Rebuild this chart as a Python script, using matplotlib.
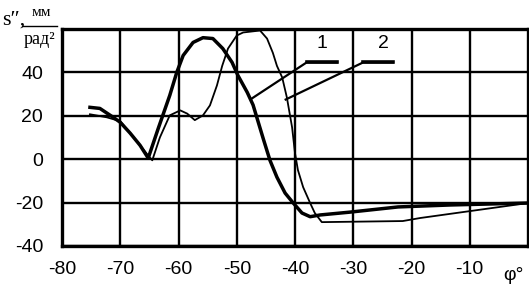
import matplotlib.pyplot as plt

# curve 1 (thick)
x1 = [-75.2, -73.5, -71.2, -70.0, -68.3, -66.6, -65.2, -63.5, -61.5, -60.3, -59.2,
      -57.5, -55.8, -54.1, -52.4, -50.8, -49.8, -48.2, -47.2, -46.3, -45.4, -44.3,
      -43.1, -41.7, -40.3, -38.8, -37.4, -35.7, -30.6, -22.3, -13.4, 0.0]
y1 = [23.9, 23.4, 19.3, 17.0, 12.0, 6.4, 0.5, 14.0, 29.4, 40.0, 47.8,
      53.8, 56.0, 55.6, 51.0, 44.6, 38.6, 30.8, 25.0, 17.0, 9.0, -0.5,
      -8.3, -15.6, -20.2, -24.8, -26.5, -25.7, -24.4, -22.0, -21.1, -20.2]

# curve 2 (thin)
x2 = [-75.2, -72.3, -70.0, -68.3, -66.6, -65.0, -64.5, -63.2, -61.5, -59.7, -58.5,
      -57.2, -55.8, -54.6, -53.4, -52.5, -51.5, -50.0, -48.9, -46.0, -44.8, -43.8,
      -43.1, -42.2, -41.4, -40.5, -40.0, -39.5, -38.6, -37.4, -36.6, -35.4, -21.5,
      -18.5, 0.0]
y2 = [20.7, 19.3, 17.5, 12.0, 6.4, 1.0, -0.5, 10.0, 20.2, 22.5, 21.0,
      18.0, 20.2, 24.8, 34.0, 43.0, 51.0, 57.0, 58.4, 59.3, 55.6, 49.0,
      43.0, 37.7, 28.5, 14.7, 2.8, -5.0, -12.9, -20.2, -24.8, -29.0, -28.5,
      -27.1, -20.2]

# leader lines to the labels
lead1_x = [-47.4, -38.0, -32.8]
lead1_y = [28.0, 44.6, 44.6]
lead2_x = [-41.6, -28.3, -23.2]
lead2_y = [27.5, 44.6, 44.6]

xticks = [-80, -70, -60, -50, -40, -30, -20, -10]
yticks = [-40, -20, 0, 20, 40]

fig = plt.figure(figsize=(5.29, 2.88), dpi=100)
ax = fig.add_axes([62 / 529, 42 / 288, 466 / 529, 217 / 288])

ax.plot(x1, y1, color='black', lw=2.5, solid_joinstyle='round', zorder=3)
ax.plot(x2, y2, color='black', lw=1.3, solid_joinstyle='round', zorder=3)
ax.plot(lead1_x, lead1_y, color='black', lw=1.6, zorder=3)
ax.plot(lead2_x, lead2_y, color='black', lw=1.6, zorder=3)
ax.plot(lead1_x[1:], lead1_y[1:], color='black', lw=2.6, zorder=3)
ax.plot(lead2_x[1:], lead2_y[1:], color='black', lw=2.6, zorder=3)

ax.text(-35.4, 53.5, '1', fontsize=14, family='Liberation Sans', ha='center', va='center')
ax.text(-24.9, 53.5, '2', fontsize=14, family='Liberation Sans', ha='center', va='center')

ax.set_xlim(-80, 0)
ax.set_ylim(-40, 60)
ax.set_xticks(xticks)
ax.set_yticks(yticks)
ax.set_xticklabels([str(v) for v in xticks], family='Liberation Sans', fontsize=14)
ax.set_yticklabels([str(v) for v in yticks], family='Liberation Sans', fontsize=14)
ax.tick_params(length=0, pad=13.5)
ax.tick_params(axis='x', pad=11)
ax.grid(True, color='black', lw=1.7)
ax.set_axisbelow(True)
for s in ax.spines.values():
    s.set_linewidth(2.4)

# axis names
fig.text(513 / 529, 1 - 275 / 288, 'φ°', fontsize=14, family='Liberation Sans',
         ha='center', va='center')
fig.text(2 / 529, 1 - 20 / 288, 's″,', fontsize=16, family='Liberation Serif',
         ha='left', va='center')
fig.text(41 / 529, 1 - 13 / 288, 'мм', fontsize=11, family='Liberation Serif',
         ha='center', va='center')
fig.add_artist(plt.Line2D([22 / 529, 57 / 529], [1 - 25.5 / 288, 1 - 25.5 / 288],
                          color='black', lw=1.0))
fig.text(39 / 529, 1 - 39 / 288, 'рад²', fontsize=13, family='Liberation Serif',
         ha='center', va='center')

plt.savefig('out.png', dpi=100)
